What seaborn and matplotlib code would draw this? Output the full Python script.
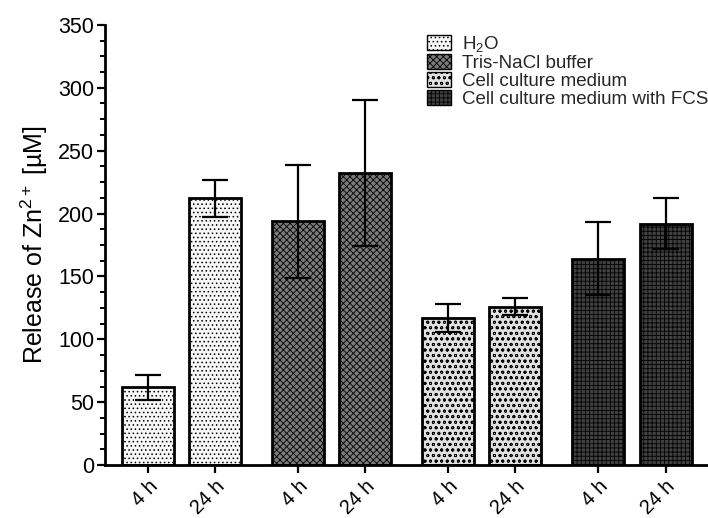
import matplotlib
matplotlib.use("Agg")
import matplotlib.pyplot as plt
from matplotlib.patches import Patch
from matplotlib.ticker import MultipleLocator
import seaborn as sns
import pandas as pd
import numpy as np

sns.set_style("ticks")
plt.rcParams['font.family'] = ['Liberation Sans', 'DejaVu Sans']
plt.rcParams['hatch.linewidth'] = 0.6
plt.rcParams['mathtext.fontset'] = 'custom'
plt.rcParams['mathtext.rm'] = 'Liberation Sans'
plt.rcParams['mathtext.it'] = 'Liberation Sans'

conditions = ["H$_2$O", "H$_2$O", "Tris-NaCl buffer", "Tris-NaCl buffer",
              "Cell culture medium", "Cell culture medium",
              "Cell culture medium with FCS", "Cell culture medium with FCS"]
tick_labels = ["4 h", "24 h", "4 h", "24 h", "4 h", "24 h", "4 h", "24 h"]
positions = [0, 1, 2.222, 3.222, 4.444, 5.444, 6.667, 7.667]
values = [62, 212, 194, 232, 117, 126, 164, 192]
errors = [10, 15, 45, 58, 11, 7, 29, 20]

legend_names = ["H$_2$O", "Tris-NaCl buffer", "Cell culture medium", "Cell culture medium with FCS"]
faces = ["#f7f7f7", "#7a7a7a", "#e0e0e0", "#404040"]
hatches = ["....", "xxxxx", "ooo", "++++"]

df = pd.DataFrame({"pos": positions, "value": values, "cond": conditions})

fig, ax = plt.subplots(figsize=(7.08, 5.18), dpi=100)
fig.subplots_adjust(left=0.148, right=1.0, top=0.952, bottom=0.102)

sns.barplot(data=df, x="pos", y="value", native_scale=True, width=0.77,
            errorbar=None, color="white", edgecolor="black", linewidth=2, ax=ax,
            zorder=2)

for patch, cond in zip(ax.patches, conditions):
    i = legend_names.index(cond)
    patch.set_facecolor(faces[i])
    patch.set_hatch(hatches[i])
    patch.set_edgecolor("black")

ax.errorbar(positions, values, yerr=errors, fmt="none", ecolor="black",
            elinewidth=1.6, capsize=9.5, capthick=1.6, zorder=3)

ax.set_xlim(-0.637, 8.296)
ax.set_ylim(0, 350)
ax.yaxis.set_major_locator(MultipleLocator(50))
ax.yaxis.set_minor_locator(MultipleLocator(12.5))
ax.set_xticks(positions)
ax.set_xticklabels(tick_labels, rotation=45, ha="right", rotation_mode="anchor",
                   fontsize=14.5)
ax.tick_params(axis="y", labelsize=15.5, pad=1.5)
ax.tick_params(axis="x", pad=2.5)
ax.tick_params(axis="both", which="major", length=6, width=1.6, direction="out",
               colors="black")
ax.tick_params(axis="y", which="minor", length=3.5, width=1.4, direction="out",
               colors="black")
ax.set_xlabel("")
ax.set_ylabel("Release of Zn$^{2+}$ [µM]", fontsize=18, color="black")
ax.yaxis.set_label_coords(-0.09, 0.5)

sns.despine(ax=ax)
for s in ["left", "bottom"]:
    ax.spines[s].set_linewidth(2)
    ax.spines[s].set_color("black")

handles = [Patch(facecolor=f, edgecolor="black", hatch=h, linewidth=1)
           for f, h in zip(faces, hatches)]
ax.legend(handles, legend_names, loc="upper left", bbox_to_anchor=(0.515, 1.005),
          frameon=False, fontsize=13.5, handlelength=1.3, handleheight=0.8,
          labelspacing=0.02, handletextpad=0.6, borderaxespad=0.2)

fig.savefig("out.png", dpi=100)
